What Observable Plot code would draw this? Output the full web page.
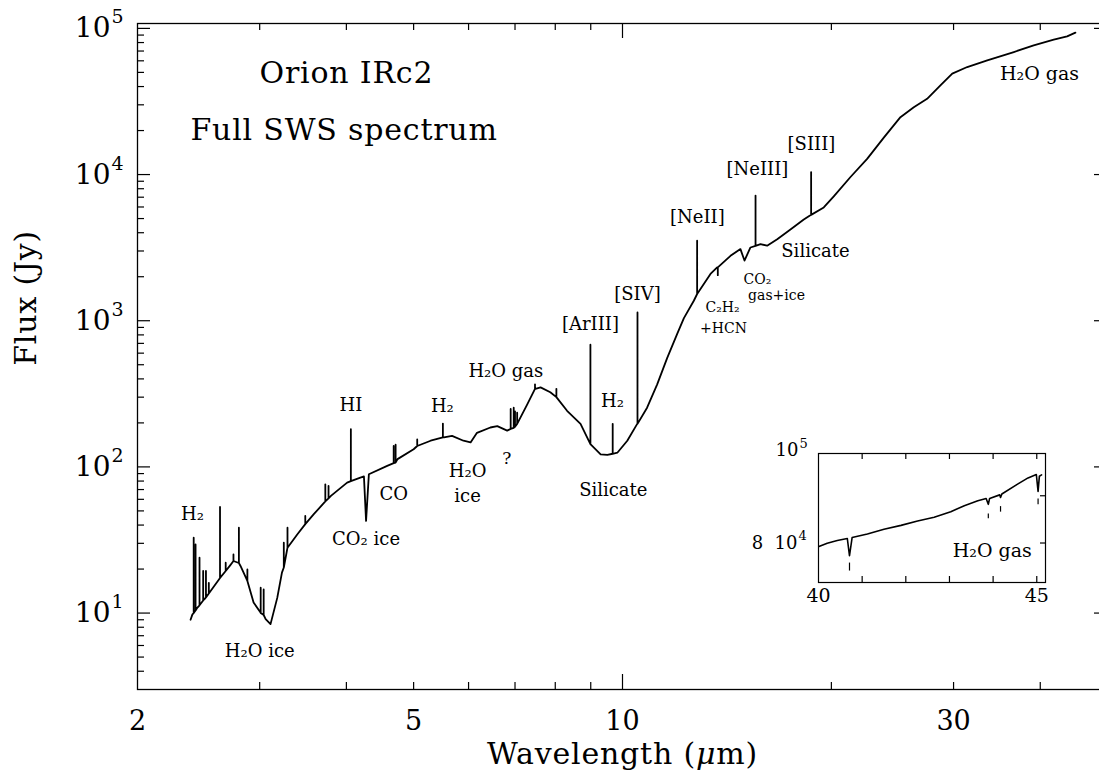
<!DOCTYPE html>
<html><head><meta charset="utf-8">
<script src="https://cdn.jsdelivr.net/npm/d3@7"></script>
<script src="https://cdn.jsdelivr.net/npm/@observablehq/plot@0.6"></script>
<style>
html,body{margin:0;padding:0;background:#fff;overflow:hidden;}
#wrap{position:relative;width:1099px;height:777px;}
#inset{position:absolute;left:750px;top:430px;}
.spaced{letter-spacing:0.8px;}
</style></head><body><div id="wrap"><div id="main"></div><div id="inset"></div></div>
<script>
// ---- Main spectrum continuum (wavelength µm, flux Jy) ----
const contWave = [2.385, 2.40, 2.44, 2.50, 2.58, 2.63, 2.68, 2.72, 2.75, 2.815, 2.88, 2.94, 3.01, 3.06, 3.11, 3.18, 3.23, 3.29, 3.40, 3.59, 3.80, 4.01, 4.19, 4.24, 4.27, 4.31, 4.58, 4.74, 5.00, 5.29, 5.53, 5.68, 5.90, 6.04, 6.17, 6.45, 6.60, 6.82, 7.05, 7.29, 7.49, 7.62, 7.87, 8.32, 8.70, 8.99, 9.30, 9.51, 9.68, 9.83, 10.16, 10.50, 10.85, 11.22, 11.60, 11.99, 12.26, 12.67, 12.81, 13.39, 13.69, 14.31, 14.79, 14.99, 15.29, 15.55, 15.81, 16.16, 16.71, 17.46, 18.25, 18.70, 19.50, 20.16, 21.31, 22.52, 23.80, 25.15, 26.29, 27.48, 28.72, 29.87, 31.39, 33.55, 36.64, 39.14, 41.83, 43.73, 44.95];
const contFlux = [9.0, 9.8, 10.9, 12.5, 15.3, 17.4, 19.4, 21.2, 22.7, 21.0, 16.6, 11.8, 10.05, 9.1, 8.4, 12.7, 18.9, 28, 34.6, 47.5, 63.4, 78, 84.5, 86, 42.7, 89, 101.6, 113, 132, 151, 159, 163, 151, 147, 171, 186, 190, 177, 197, 268, 342, 350, 324, 242, 197, 143, 122, 121, 123, 125, 151, 197, 254, 367, 557, 812, 1042, 1370, 1524, 2090, 2320, 2780, 3090, 2580, 3170, 3250, 3340, 3260, 3610, 4210, 4920, 5300, 5960, 7100, 9620, 12800, 17900, 24700, 28900, 33000, 40700, 49000, 54400, 60400, 68900, 76600, 83800, 88200, 93500];

// ---- Narrow emission/absorption features (wavelength, continuum base, peak) ----
const lineWave = [2.41, 2.425, 2.457, 2.487, 2.51, 2.534, 2.63, 2.68, 2.75, 2.80, 2.88, 3.01, 3.04, 3.25, 3.29, 3.49, 3.73, 3.77, 4.06, 4.68, 4.71, 5.06, 5.51, 6.90, 6.97, 7.00, 7.05, 7.48, 8.03, 8.99, 9.68, 10.51, 12.81, 13.72, 15.55, 18.70];
const lineBase = [10.0, 10.4, 11.3, 12.2, 12.8, 13.6, 17.4, 19.4, 22.7, 22, 16.6, 10, 9.7, 20.5, 28, 40.6, 58, 61, 80, 106, 107, 139, 159, 182, 185, 188, 197, 342, 300, 143, 123, 197, 1524, 2320, 3250, 5300];
const linePeak = [32.8, 29.5, 23.9, 19.4, 19.4, 16.1, 53.2, 22.1, 25.2, 38.4, 19.9, 14.9, 14.5, 30.3, 38.4, 46.2, 76, 74, 181, 139, 142, 154, 198, 249, 254, 240, 235, 367, 342, 686, 197, 1140, 3530, 2050, 7180, 10400];

// ---- Axis ticks ----
const xTickLabels = [2, 5, 10, 30];
const xMinorTicks = [3, 4, 5, 6, 7, 8, 9, 20, 30, 40];
const xMajorTicks = [10];
const yExponents = [1, 2, 3, 4, 5];
const yMinorTicks = [4, 5, 6, 7, 8, 9, 20, 30, 40, 50, 60, 70, 80, 90, 200, 300, 400, 500, 600, 700, 800, 900, 2000, 3000, 4000, 5000, 6000, 7000, 8000, 9000, 20000, 30000, 40000, 50000, 60000, 70000, 80000, 90000];

// ---- Annotations ----
const labelText = ["H₂", "HI", "H₂", "CO", "CO₂ ice", "H₂O ice", "H₂O", "ice", "?", "H₂O gas", "[ArIII]", "[SIV]", "H₂", "Silicate", "[NeII]", "[NeIII]", "[SIII]", "Silicate", "CO₂", "gas+ice", "C₂H₂", "+HCN", "H₂O gas"];
const labelWave = [2.40, 4.06, 5.50, 4.68, 4.27, 3.00, 5.98, 5.98, 6.81, 6.79, 8.99, 10.51, 9.67, 9.70, 12.82, 15.65, 18.72, 18.97, 15.65, 16.67, 13.94, 13.98, 39.9];
const labelFlux = [47.6, 266, 262, 65.3, 32.1, 5.5, 94, 63.2, 113.5, 448, 940, 1507, 283, 69.5, 5070, 10800, 16000, 2970, 1910, 1483, 1230, 890, 49200];
const labelSize = [18, 18, 18, 18, 18, 18, 18, 18, 17, 18, 18, 18, 18, 18, 18, 18, 18, 18, 14, 14, 14, 14, 19];
const titleText = ["Orion IRc2", "Full SWS spectrum"];
const titleWave = [4.0, 3.97];
const titleFlux = [49200, 20000];

// ---- Inset (40-45 µm) ----
const insetWave = [40.01, 40.20, 40.43, 40.66, 40.71, 40.77, 41.12, 41.50, 41.89, 42.27, 42.65, 43.03, 43.34, 43.65, 43.84, 43.89, 43.92, 44.15, 44.17, 44.20, 44.57, 44.80, 44.99, 45.03, 45.06, 45.11];
const insetFlux = [79300, 79950, 80500, 80900, 77500, 81100, 81800, 82800, 83600, 84500, 85300, 86500, 87800, 88900, 89400, 88100, 89400, 90200, 89600, 90400, 92700, 94100, 94900, 91000, 94500, 94800];
const insetMarkWave = [40.71, 43.89, 44.17, 45.03];
const insetMarkLow = [74600, 85000, 86400, 88000];
const insetMarkHigh = [76100, 86000, 87600, 89300];
const insetXLabels = [40, 45];
const insetXTicks = [41, 42, 43, 44, 45];
const insetYTicks = [80000, 90000];

const font = "DejaVu Serif";

// build path from continuum + narrow features
const pts = [];
contWave.forEach((w, i) => pts.push({w, f: contFlux[i], k: 0}));
lineWave.forEach((w, i) => {
  pts.push({w, f: lineBase[i], k: 1});
  pts.push({w, f: linePeak[i], k: 2});
  pts.push({w, f: lineBase[i], k: 3});
});
pts.sort((a, b) => a.w - b.w || a.k - b.k);

const W = 1099, H = 777;
const mL = 137, mT = 23, mB = 88, mR = -8;
const frameH = H - mT - mB, frameW = W - mL - mR;
const tickStyle = {stroke: "black", strokeWidth: 1.2};
const labels = labelText.map((t, i) => ({t, w: labelWave[i], f: labelFlux[i], s: labelSize[i]}));

const main = Plot.plot({
  width: W, height: H,
  marginLeft: mL, marginTop: mT, marginBottom: mB, marginRight: mR,
  x: {type: "log", domain: [2, 50], axis: null},
  y: {type: "log", domain: [3, 1.08e5], axis: null},
  style: {fontFamily: font, background: "white", color: "black"},
  marks: [
    Plot.frame({stroke: "black", strokeWidth: 1.3}),
    Plot.tickX(xMinorTicks, {x: d => d, insetTop: frameH - 7, ...tickStyle}),
    Plot.tickX(xMajorTicks, {x: d => d, insetTop: frameH - 15, ...tickStyle}),
    Plot.tickX(xMinorTicks, {x: d => d, insetBottom: frameH - 7, ...tickStyle}),
    Plot.tickX(xMajorTicks, {x: d => d, insetBottom: frameH - 15, ...tickStyle}),
    Plot.tickY(yMinorTicks, {y: d => d, insetRight: frameW - 7, ...tickStyle}),
    Plot.tickY(yExponents, {y: d => 10 ** d, insetRight: frameW - 13, ...tickStyle}),
    Plot.tickY(yMinorTicks, {y: d => d, insetLeft: frameW - 7, ...tickStyle}),
    Plot.tickY(yExponents, {y: d => 10 ** d, insetLeft: frameW - 13, ...tickStyle}),
    Plot.text(xTickLabels, {x: d => d, text: d => String(d), frameAnchor: "bottom", lineAnchor: "middle", dy: 32, fontSize: 27}),
    Plot.text(yExponents, {y: d => 10 ** d, text: () => "10", frameAnchor: "left", textAnchor: "end", dx: -27, fontSize: 28}),
    Plot.text(yExponents, {y: d => 10 ** d, text: d => String(d), frameAnchor: "left", textAnchor: "start", dx: -26, dy: -11, fontSize: 19}),
    Plot.text(["Wavelength (μm)"], {x: () => 10, text: d => d, frameAnchor: "bottom", lineAnchor: "middle", dy: 65, fontSize: 30, className: "spaced"}),
    Plot.text(["Flux (Jy)"], {y: () => 492, text: d => d, frameAnchor: "left", dx: -111, rotate: -90, fontSize: 30, className: "spaced"}),
    Plot.line(pts, {x: "w", y: "f", stroke: "black", strokeWidth: 1.8, curve: "linear"}),
    Plot.text(labels, {x: "w", y: "f", text: "t", fontSize: "s"}),
    Plot.text(titleText, {x: (d, i) => titleWave[i], y: (d, i) => titleFlux[i], text: d => d, fontSize: 30, className: "spaced"})
  ]
});
document.getElementById("main").appendChild(main);

// italic mu
d3.select(main).selectAll("text").filter(function() { return this.textContent === "Wavelength (μm)"; })
  .each(function() {
    const t = d3.select(this);
    t.text(null);
    t.append("tspan").text("Wavelength (");
    t.append("tspan").attr("font-style", "italic").text("μ");
    t.append("tspan").text("m)");
  });

const iW = 320, iH = 180, imL = 68, imR = 25, imT = 23, imB = 28;
const ifH = iH - imT - imB, ifW = iW - imL - imR;
const insetPts = insetWave.map((w, i) => ({w, f: insetFlux[i]}));
const insetMarks = insetMarkWave.map((w, i) => ({w, lo: insetMarkLow[i], hi: insetMarkHigh[i]}));
const inset = Plot.plot({
  width: iW, height: iH,
  marginLeft: imL, marginRight: imR, marginTop: imT, marginBottom: imB,
  x: {type: "linear", domain: [40, 45.2], axis: null},
  y: {type: "log", domain: [72500, 100000], axis: null},
  style: {fontFamily: font, background: "transparent", overflow: "visible"},
  marks: [
    Plot.frame({stroke: "black", strokeWidth: 1.2}),
    Plot.tickX(insetXTicks, {x: d => d, insetTop: ifH - 6, ...tickStyle}),
    Plot.tickX(insetXTicks, {x: d => d, insetBottom: ifH - 6, ...tickStyle}),
    Plot.tickY(insetYTicks, {y: d => d, insetLeft: ifW - 5, ...tickStyle}),
    Plot.text(insetXLabels, {x: d => d, text: d => String(d), frameAnchor: "bottom", lineAnchor: "middle", dy: 13, fontSize: 19}),
    Plot.text([100000], {y: d => d, text: () => "10", frameAnchor: "left", textAnchor: "end", dx: -20, dy: -3, fontSize: 18}),
    Plot.text([100000], {y: d => d, text: () => "5", frameAnchor: "left", textAnchor: "start", dx: -19, dy: -10, fontSize: 13}),
    Plot.text([80000], {y: d => d, text: () => "8  10", frameAnchor: "left", textAnchor: "end", dx: -21, fontSize: 18}),
    Plot.text([80000], {y: d => d, text: () => "4", frameAnchor: "left", textAnchor: "start", dx: -20, dy: -7, fontSize: 13}),
    Plot.line(insetPts, {x: "w", y: "f", stroke: "black", strokeWidth: 1.6}),
    Plot.ruleX(insetMarks, {x: "w", y1: "lo", y2: "hi", stroke: "black", strokeWidth: 1.2}),
    Plot.text(["H₂O gas"], {x: () => 43.98, y: () => 78500, text: d => d, fontSize: 19})
  ]
});
document.getElementById("inset").appendChild(inset);
</script></body></html>
